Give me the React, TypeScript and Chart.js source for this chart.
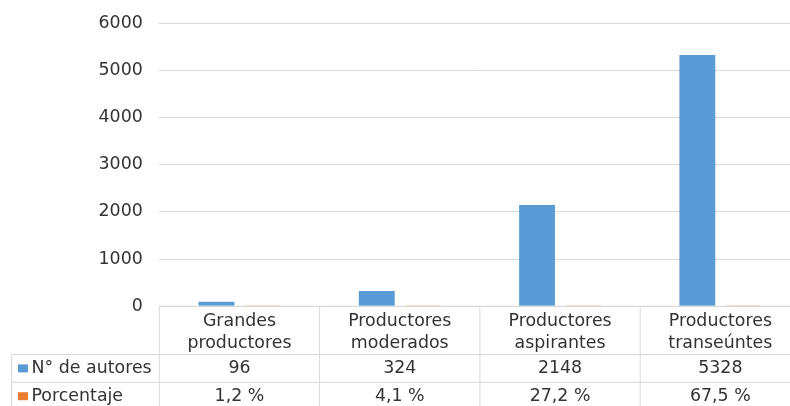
import React, { useEffect, useRef } from "react";
import { Chart, registerables } from "chart.js";

Chart.register(...registerables);

// Categories split into the two lines shown in the table header
const categories: string[][] = [
  ["Grandes", "productores"],
  ["Productores", "moderados"],
  ["Productores", "aspirantes"],
  ["Productores", "transeúntes"],
];
const autores: number[] = [96, 324, 2148, 5328];
// Shares stored as fractions, shown as percentages in the table
const porcentaje: number[] = [0.012, 0.041, 0.272, 0.675];
const seriesNames: string[] = ["N° de autores", "Porcentaje"];
const yTicks: number[] = [0, 1000, 2000, 3000, 4000, 5000, 6000];

const BLUE = "#5B9BD5";
const ORANGE = "#ED7D31";
const GRID = "#D9D9D9";
const TEXT = "#333333";
const FONT_FAMILY = "'DejaVu Sans', Verdana, sans-serif";
const FONT_SIZE = 17.4;

const fmtPct = (v: number) => (v * 100).toFixed(1).replace(".", ",") + " %";

// Draws the Excel-style data table under the plot area
const dataTablePlugin = {
  id: "dataTable",
  afterDraw(chart: Chart) {
    const { ctx, chartArea } = chart;
    const left = chartArea.left;
    const right = chartArea.right;
    const n = categories.length;
    const colW = (right - left) / n;
    const top = chartArea.bottom;
    const headerH = 48.2;
    const rowH = 27.8;
    const keyLeft = 11.7;
    const y1 = top + headerH;
    const y2 = y1 + rowH;
    const y3 = y2 + rowH;

    ctx.save();
    ctx.strokeStyle = GRID;
    ctx.lineWidth = 1;
    const line = (xa: number, ya: number, xb: number, yb: number) => {
      ctx.beginPath();
      ctx.moveTo(xa, ya);
      ctx.lineTo(xb, yb);
      ctx.stroke();
    };
    line(left, top, right, top);
    line(keyLeft, y1, right, y1);
    line(keyLeft, y2, right, y2);
    line(keyLeft, y3, right, y3);
    line(keyLeft, y1, keyLeft, y3);
    for (let i = 0; i <= n; i++) {
      const x = left + i * colW;
      line(x, top, x, y3);
    }

    ctx.fillStyle = TEXT;
    ctx.font = `${FONT_SIZE}px ${FONT_FAMILY}`;
    ctx.textBaseline = "middle";
    ctx.textAlign = "center";
    const xs = chart.scales.x;
    categories.forEach((lines, i) => {
      const cx = xs.getPixelForValue(i);
      ctx.fillText(lines[0], cx, top + 15.5);
      ctx.fillText(lines[1], cx, top + 37);
      ctx.fillText(String(autores[i]), cx, y1 + rowH / 2 + 0.5);
      ctx.fillText(fmtPct(porcentaje[i]), cx, y2 + rowH / 2 + 0.5);
    });

    // Legend keys and series names
    const rows = [
      { y: y1 + rowH / 2, color: BLUE, name: seriesNames[0] },
      { y: y2 + rowH / 2, color: ORANGE, name: seriesNames[1] },
    ];
    ctx.textAlign = "left";
    rows.forEach((r) => {
      ctx.fillStyle = r.color;
      ctx.fillRect(18, r.y - 4, 10, 8);
      ctx.fillStyle = TEXT;
      ctx.fillText(r.name, 31.5, r.y + 0.5);
    });
    ctx.restore();
  },
};

export default function App() {
  const canvasRef = useRef<HTMLCanvasElement | null>(null);

  useEffect(() => {
    const canvas = canvasRef.current;
    if (!canvas) return;
    const chart = new Chart(canvas, {
      type: "bar",
      data: {
        labels: categories.map((c) => c.join(" ")),
        datasets: [
          {
            label: seriesNames[0],
            data: autores,
            backgroundColor: BLUE,
            barPercentage: 0.78,
            categoryPercentage: 0.574,
          },
          {
            label: seriesNames[1],
            data: porcentaje,
            backgroundColor: ORANGE,
            barPercentage: 0.78,
            categoryPercentage: 0.574,
          },
        ],
      },
      options: {
        responsive: false,
        animation: false,
        devicePixelRatio: 1,
        layout: { padding: { top: 23.3, bottom: 99.7, left: 0, right: 0.5 } },
        plugins: {
          legend: { display: false },
          tooltip: { enabled: false },
        },
        scales: {
          x: { display: false },
          y: {
            min: yTicks[0],
            max: yTicks[yTicks.length - 1],
            afterBuildTicks: (scale: any) => {
              scale.ticks = yTicks.map((v) => ({ value: v }));
            },
            afterFit: (scale: any) => {
              scale.width = 159.3;
              scale.paddingTop = 0;
              scale.paddingBottom = 0;
            },
            border: { display: false },
            grid: { color: GRID, drawTicks: false, lineWidth: 1 },
            ticks: {
              padding: 16.5,
              color: TEXT,
              font: { family: FONT_FAMILY, size: FONT_SIZE },
              callback: (v: any) => String(v),
            },
          },
        },
      },
      plugins: [dataTablePlugin],
    });
    return () => chart.destroy();
  }, []);

  return (
    <div
      style={{
        position: "absolute",
        top: 0,
        left: 0,
        width: 790,
        height: 406,
        overflow: "hidden",
        background: "#ffffff",
      }}
    >
      <canvas ref={canvasRef} width={801} height={406} style={{ display: "block" }} />
    </div>
  );
}
